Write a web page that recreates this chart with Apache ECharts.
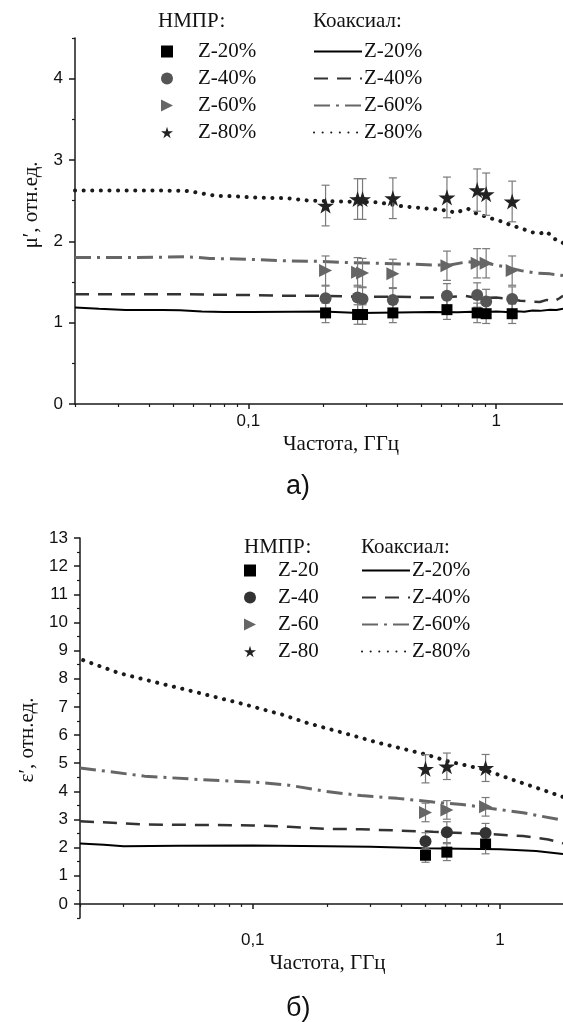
<!DOCTYPE html>
<html><head><meta charset="utf-8">
<script src="https://cdn.jsdelivr.net/npm/echarts@6/dist/echarts.min.js"></script>
<style>html,body{margin:0;padding:0;background:#fff}#c{width:563px;height:1022px}</style>
</head><body><div id="c"></div>
<script>
// ---------- (a) μ' ----------
const muPointFreq = [0.205, 0.276, 0.289, 0.383, 0.633, 0.838, 0.911, 1.16];
const muNmprZ20 = [1.12, 1.10, 1.10, 1.12, 1.16, 1.12, 1.11, 1.11];
const muNmprZ20Err = [0.12, 0.12, 0.12, 0.12, 0.12, 0.12, 0.12, 0.12];
const muNmprZ40 = [1.30, 1.31, 1.29, 1.28, 1.33, 1.34, 1.26, 1.29];
const muNmprZ40Err = [0.15, 0.15, 0.15, 0.15, 0.15, 0.15, 0.15, 0.15];
const muNmprZ60 = [1.64, 1.62, 1.61, 1.60, 1.70, 1.73, 1.73, 1.64];
const muNmprZ60Err = [0.18, 0.18, 0.18, 0.18, 0.18, 0.18, 0.18, 0.18];
const muNmprZ80 = [2.44, 2.52, 2.52, 2.53, 2.54, 2.63, 2.58, 2.49];
const muNmprZ80Err = [0.25, 0.25, 0.25, 0.25, 0.25, 0.26, 0.26, 0.25];

const muCoaxZ20 = [[0.02,1.185],[0.025,1.17],[0.032,1.157],[0.045,1.155],[0.053,1.153],[0.065,1.137],[0.08,1.132],[0.103,1.13],[0.15,1.135],[0.2,1.136],[0.28,1.12],[0.4,1.125],[0.55,1.13],[0.7,1.128],[0.8,1.135],[0.85,1.12],[0.9,1.13],[1.0,1.136],[1.1,1.13],[1.2,1.14],[1.3,1.135],[1.4,1.15],[1.5,1.145],[1.65,1.16],[1.75,1.155],[1.86,1.17]];
const muCoaxZ40 = [[0.02,1.35],[0.03,1.35],[0.053,1.35],[0.075,1.343],[0.1,1.34],[0.15,1.33],[0.2,1.33],[0.28,1.32],[0.4,1.32],[0.5,1.31],[0.6,1.31],[0.75,1.33],[0.85,1.30],[1.0,1.31],[1.15,1.29],[1.25,1.27],[1.4,1.26],[1.5,1.255],[1.6,1.28],[1.7,1.26],[1.8,1.3],[1.86,1.33]];
const muCoaxZ60 = [[0.02,1.80],[0.035,1.80],[0.057,1.81],[0.07,1.79],[0.1,1.78],[0.14,1.76],[0.19,1.755],[0.25,1.74],[0.33,1.73],[0.45,1.72],[0.55,1.71],[0.65,1.71],[0.77,1.75],[0.85,1.73],[0.92,1.73],[1.07,1.69],[1.26,1.64],[1.45,1.61],[1.65,1.60],[1.86,1.58]];
const muCoaxZ80 = [[0.02,2.625],[0.03,2.625],[0.045,2.625],[0.056,2.62],[0.062,2.6],[0.074,2.56],[0.087,2.555],[0.103,2.54],[0.144,2.53],[0.176,2.50],[0.238,2.49],[0.333,2.48],[0.42,2.43],[0.548,2.40],[0.627,2.38],[0.69,2.35],[0.74,2.39],[0.77,2.40],[0.846,2.33],[0.92,2.30],[1.0,2.26],[1.07,2.24],[1.14,2.20],[1.26,2.16],[1.40,2.11],[1.52,2.10],[1.60,2.12],[1.71,2.03],[1.80,2.01],[1.86,1.98]];

// ---------- (б) ε' ----------
const epsPointFreq = [0.50, 0.61, 0.875];
const epsNmprZ20 = [1.73, 1.84, 2.13];
const epsNmprZ20Err = [0.25, 0.3, 0.35];
const epsNmprZ40 = [2.23, 2.55, 2.52];
const epsNmprZ40Err = [0.3, 0.37, 0.34];
const epsNmprZ60 = [3.25, 3.34, 3.45];
const epsNmprZ60Err = [0.33, 0.33, 0.33];
const epsNmprZ80 = [4.80, 4.89, 4.83];
const epsNmprZ80Err = [0.5, 0.47, 0.48];

const epsCoaxZ20 = [[0.02,2.15],[0.025,2.1],[0.03,2.05],[0.05,2.07],[0.1,2.08],[0.2,2.05],[0.3,2.03],[0.5,1.98],[0.7,1.96],[1.0,1.94],[1.4,1.88],[1.8,1.77]];
const epsCoaxZ40 = [[0.02,2.94],[0.0365,2.82],[0.1,2.79],[0.14,2.74],[0.196,2.67],[0.274,2.65],[0.384,2.61],[0.537,2.56],[0.875,2.49],[1.24,2.41],[1.57,2.29],[1.8,2.15]];
const epsCoaxZ60 = [[0.02,4.83],[0.0365,4.54],[0.0604,4.42],[0.1,4.33],[0.14,4.22],[0.196,4.0],[0.274,3.85],[0.384,3.75],[0.537,3.62],[0.703,3.53],[0.875,3.42],[1.24,3.24],[1.8,2.97]];
const epsCoaxZ80 = [[0.0206,8.66],[0.0288,8.2],[0.0365,7.97],[0.0604,7.5],[0.0935,7.08],[0.131,6.73],[0.166,6.43],[0.232,6.08],[0.324,5.72],[0.502,5.31],[0.614,5.07],[0.859,4.78],[1.12,4.42],[1.47,4.07],[1.8,3.8]];

// ---------- axis ticks ----------
const xMajorTicks = [0.1, 1];
const xMinorTicks = [0.02,0.03,0.04,0.05,0.06,0.07,0.08,0.09,0.2,0.3,0.4,0.5,0.6,0.7,0.8,0.9];
const muYTicks = [0,1,2,3,4];
const muYMinor = [0.5,1.5,2.5,3.5,4.5];
const epsYTicks = [0,1,2,3,4,5,6,7,8,9,10,11,12,13];
const epsYMinor = [-0.5,0.5,1.5,2.5,3.5,4.5,5.5,6.5,7.5,8.5,9.5,10.5,11.5,12.5];

const SERIF = 'Liberation Serif';
const SANS = 'Liberation Sans';
const AX = '#1a1a1a';
const STAR = 'path://M50,0 L61,35 L98,35 L68,57 L79,91 L50,70 L21,91 L32,57 L2,35 L39,35 Z';
const TRI = 'path://M0,0 L100,50 L0,100 Z';

function zip(f, v, e) { return f.map((x, i) => e ? [x, v[i], e[i]] : [x, v[i]]); }

function scatter(name, f, v, symbol, size, color, ax) {
  return { name, type: 'scatter', xAxisIndex: ax, yAxisIndex: ax, data: zip(f, v),
    symbol, symbolSize: size, symbolKeepAspect: true, itemStyle: { color, opacity: 1 }, z: 5, silent: true };
}
function errBars(f, v, e, ax) {
  return { type: 'custom', xAxisIndex: ax, yAxisIndex: ax, data: zip(f, v, e), z: 4, silent: true,
    encode: { x: 0, y: 1 },
    renderItem: (p, api) => {
      const x = api.value(0), y = api.value(1), d = api.value(2);
      const hi = api.coord([x, y + d]), lo = api.coord([x, y - d]);
      const st = { stroke: '#7a7a7a', lineWidth: 1.2 };
      return { type: 'group', children: [
        { type: 'line', shape: { x1: hi[0], y1: hi[1], x2: lo[0], y2: lo[1] }, style: st },
        { type: 'line', shape: { x1: hi[0] - 4, y1: hi[1], x2: hi[0] + 4, y2: hi[1] }, style: st },
        { type: 'line', shape: { x1: lo[0] - 4, y1: lo[1], x2: lo[0] + 4, y2: lo[1] }, style: st }
      ] };
    } };
}
function line(name, data, style, ax) {
  return { name, type: 'line', xAxisIndex: ax, yAxisIndex: ax, data, symbol: 'none', showSymbol: false,
    itemStyle: { color: style.color }, lineStyle: style, z: 2, silent: true, animation: false };
}
const S_SOLID = { color: '#000', width: 2, type: 'solid' };
const S_DASH = { color: '#333', width: 2.5, type: [14, 9] };
const S_DASHDOT = { color: '#666', width: 3, type: [16, 6, 3, 6] };
const S_DOT = { color: '#1a1a1a', width: 4, type: [0.1, 8.5], cap: 'round' };

function xAxes(grid, max, name, nameGap, namePad, labelMargin) {
  return [
    { gridIndex: grid, type: 'log', logBase: 10, min: 0.02, max, position: 'bottom',
      axisLine: { show: true, lineStyle: { color: AX, width: 1.5 } },
      axisTick: { show: true, length: 5, customValues: xMajorTicks, lineStyle: { color: AX, width: 1.5 } },
      axisLabel: { customValues: xMajorTicks, margin: labelMargin, fontFamily: SANS, fontSize: 17, color: '#111',
        formatter: v => Math.abs(v - 0.1) < 1e-9 ? '0,1' : (Math.abs(v - 1) < 1e-9 ? '1' : '') },
      splitLine: { show: false }, minorTick: { show: false },
      name, nameLocation: 'middle', nameGap,
      nameTextStyle: { fontFamily: SERIF, fontSize: 21, color: '#111', padding: namePad } },
    { gridIndex: grid, type: 'log', logBase: 10, min: 0.02, max, position: 'bottom',
      axisLine: { show: false },
      axisTick: { show: true, length: 3, customValues: xMinorTicks, lineStyle: { color: AX, width: 1.2 } },
      axisLabel: { show: false }, splitLine: { show: false } }
  ];
}
function yAxes(grid, min, max, ticks, minor, name, namePad) {
  return [
    { gridIndex: grid, type: 'value', min, max, position: 'left',
      axisLine: { show: true, lineStyle: { color: AX, width: 1.5 } },
      axisTick: { show: true, length: 6, customValues: ticks, lineStyle: { color: AX, width: 1.5 } },
      axisLabel: { customValues: ticks, margin: 12, fontFamily: SANS, fontSize: 17, color: '#111' },
      splitLine: { show: false },
      name, nameLocation: 'middle', nameGap: 33, nameRotate: 90,
      nameTextStyle: { fontFamily: SERIF, fontSize: 21, color: '#111', padding: namePad } },
    { gridIndex: grid, type: 'value', min, max, position: 'left',
      axisLine: { show: false },
      axisTick: { show: true, length: 3, customValues: minor, lineStyle: { color: AX, width: 1.2 } },
      axisLabel: { show: false }, splitLine: { show: false } }
  ];
}

const fmt = n => n.split(' ').pop();
const legText = (pad) => ({ fontFamily: SERIF, fontSize: 21, color: '#111', lineHeight: 27, padding: pad });
function legend(left, top, names, iw, ih, pad, hideSymbol) {
  const l = { left, top, orient: 'vertical', padding: 0, itemGap: 0, itemWidth: iw, itemHeight: ih,
    selectedMode: false, data: names, formatter: fmt, textStyle: legText(pad) };
  if (hideSymbol) l.itemStyle = { opacity: 0 };
  return l;
}
function header(text, left, top, font, size) {
  return { text, left, top, padding: 0, textStyle: { fontFamily: font, fontSize: size, fontWeight: 'normal', color: '#111' } };
}

const series = [
  line('μ Коаксиал Z-20%', muCoaxZ20, S_SOLID, 0),
  line('μ Коаксиал Z-40%', muCoaxZ40, S_DASH, 0),
  line('μ Коаксиал Z-60%', muCoaxZ60, S_DASHDOT, 0),
  line('μ Коаксиал Z-80%', muCoaxZ80, S_DOT, 0),
  errBars(muPointFreq, muNmprZ20, muNmprZ20Err, 0),
  errBars(muPointFreq, muNmprZ40, muNmprZ40Err, 0),
  errBars(muPointFreq, muNmprZ60, muNmprZ60Err, 0),
  errBars(muPointFreq, muNmprZ80, muNmprZ80Err, 0),
  scatter('μ НМПР Z-20%', muPointFreq, muNmprZ20, 'rect', 11, '#000', 0),
  scatter('μ НМПР Z-40%', muPointFreq, muNmprZ40, 'circle', 12, '#555', 0),
  scatter('μ НМПР Z-60%', muPointFreq, muNmprZ60, TRI, 13, '#666', 0),
  scatter('μ НМПР Z-80%', muPointFreq, muNmprZ80, STAR, 17, '#222', 0),

  line('ε Коаксиал Z-20%', epsCoaxZ20, S_SOLID, 2),
  line('ε Коаксиал Z-40%', epsCoaxZ40, S_DASH, 2),
  line('ε Коаксиал Z-60%', epsCoaxZ60, S_DASHDOT, 2),
  line('ε Коаксиал Z-80%', epsCoaxZ80, S_DOT, 2),
  errBars(epsPointFreq, epsNmprZ20, epsNmprZ20Err, 2),
  errBars(epsPointFreq, epsNmprZ40, epsNmprZ40Err, 2),
  errBars(epsPointFreq, epsNmprZ60, epsNmprZ60Err, 2),
  errBars(epsPointFreq, epsNmprZ80, epsNmprZ80Err, 2),
  scatter('ε НМПР Z-20', epsPointFreq, epsNmprZ20, 'rect', 11, '#000', 2),
  scatter('ε НМПР Z-40', epsPointFreq, epsNmprZ40, 'circle', 12, '#333', 2),
  scatter('ε НМПР Z-60', epsPointFreq, epsNmprZ60, TRI, 13, '#666', 2),
  scatter('ε НМПР Z-80', epsPointFreq, epsNmprZ80, STAR, 17, '#222', 2)
];

const chart = echarts.init(document.getElementById('c'), null, { renderer: 'canvas' });
chart.setOption({
  animation: false,
  backgroundColor: '#fff',
  grid: [
    { left: 75, right: 0, top: 38, height: 366, containLabel: false, outerBoundsMode: 'none' },
    { left: 80, right: 0, top: 538, height: 380, containLabel: false, outerBoundsMode: 'none' }
  ],
  xAxis: [].concat(xAxes(0, 1.86, 'Частота, ГГц', 30, [0, 0, 0, 44], 9),
                   xAxes(1, 1.8, 'Частота, ГГц', 35, [0, 0, 0, 12], 14)),
  yAxis: [].concat(yAxes(0, 0, 4.5, muYTicks, muYMinor, 'μ′, отн.ед.', [0, 0, 0, 32]),
                   yAxes(1, -0.5, 13, epsYTicks, epsYMinor, 'ε′, отн.ед.', [0, 24, 0, 0])),
  title: [
    header('НМПР:', 158, 11, SERIF, 21),
    header('Коаксиал:', 313, 11, SERIF, 21),
    header('НМПР:', 244, 537, SERIF, 21),
    header('Коаксиал:', 361, 537, SERIF, 21),
    header('а)', 286, 473, SANS, 27),
    header('б)', 286, 995, SANS, 27)
  ],
  legend: [
    legend(161, 38, ['μ НМПР Z-20%', 'μ НМПР Z-40%', 'μ НМПР Z-60%', 'μ НМПР Z-80%'], 12, 12, [0, 0, 0, 20], false),
    legend(313, 38, ['μ Коаксиал Z-20%', 'μ Коаксиал Z-40%', 'μ Коаксиал Z-60%', 'μ Коаксиал Z-80%'], 48, 14, [0, 0, 0, -3], true),
    legend(244, 557, ['ε НМПР Z-20', 'ε НМПР Z-40', 'ε НМПР Z-60', 'ε НМПР Z-80'], 12, 12, [0, 0, 0, 17], false),
    legend(361, 557, ['ε Коаксиал Z-20%', 'ε Коаксиал Z-40%', 'ε Коаксиал Z-60%', 'ε Коаксиал Z-80%'], 48, 14, [0, 0, 0, -3], true)
  ],
  series
});
</script></body></html>
